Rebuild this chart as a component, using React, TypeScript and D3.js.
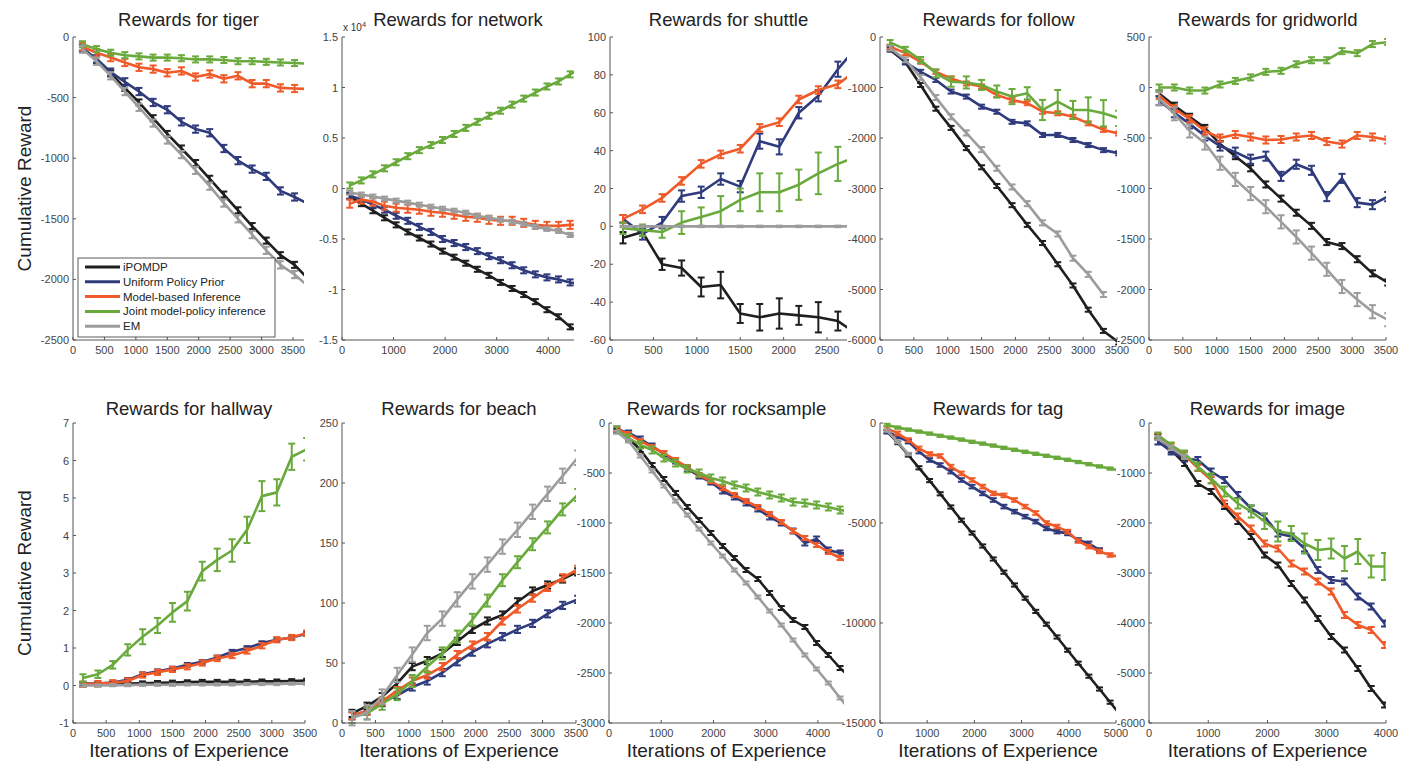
import * as d3 from 'd3';
import React from 'react';

// iterations at which every method was evaluated
const ITERATIONS = [150, 375, 600, 825, 1050, 1275, 1500, 1725, 1950, 2175, 2400, 2625, 2850, 3075, 3300, 3525, 3750, 3975, 4200, 4425, 4650, 4875, 5100];

const METHODS = ['iPOMDP', 'Uniform Policy Prior', 'Model-based Inference', 'Joint model-policy inference', 'EM'];
const COLORS = ['#1f1f1f', '#2f3b7c', '#ef5a28', '#6aaa3c', '#9c9c9c'];

// cumulative reward per method (order of METHODS)
const tiger = [
  [-90, -190, -300, -420, -540, -670, -800, -920, -1040, -1170, -1300, -1430, -1560, -1680, -1800, -1880, -2000],
  [-95, -180, -290, -370, -450, -540, -600, -700, -760, -790, -920, -1020, -1090, -1150, -1270, -1320, -1380],
  [-80, -130, -170, -210, -250, -265, -295, -280, -330, -305, -345, -320, -385, -385, -420, -425, -430],
  [-60, -100, -130, -150, -160, -170, -170, -175, -185, -185, -190, -200, -200, -205, -210, -215, -220],
  [-100, -200, -320, -450, -580, -710, -850, -970, -1100, -1230, -1370, -1500, -1630, -1760, -1880, -1960, -2060],
];
const tigerErr = [25, 30, 30, 25, 30];

// network values in units of 10^4
const network = [
  [-0.08, -0.15, -0.22, -0.29, -0.36, -0.43, -0.49, -0.55, -0.62, -0.68, -0.74, -0.8, -0.86, -0.93, -0.99, -1.05, -1.12, -1.2, -1.27, -1.37, -1.43],
  [-0.07, -0.11, -0.16, -0.21, -0.27, -0.32, -0.38, -0.43, -0.5, -0.54, -0.58, -0.62, -0.67, -0.71, -0.76, -0.81, -0.85, -0.88, -0.9, -0.93, -0.95],
  [-0.15, -0.11, -0.13, -0.17, -0.19, -0.2, -0.21, -0.23, -0.24, -0.26, -0.28, -0.29, -0.31, -0.32, -0.32, -0.34, -0.36, -0.37, -0.37, -0.36, -0.36],
  [0.03, 0.08, 0.14, 0.2, 0.26, 0.32, 0.38, 0.43, 0.48, 0.54, 0.6, 0.66, 0.72, 0.77, 0.83, 0.89, 0.95, 1.01, 1.06, 1.13, 1.19],
  [-0.04, -0.06, -0.08, -0.1, -0.12, -0.14, -0.16, -0.18, -0.2, -0.22, -0.24, -0.27, -0.29, -0.31, -0.33, -0.35, -0.38, -0.4, -0.42, -0.46, -0.48],
];
const networkErr = [0.025, 0.03, 0.04, 0.03, 0.02];

const shuttle = [
  [-6, -3, -20, -22, -32, -31, -46, -48, -46, -47, -48, -50, -57],
  [4, -4, 2, 16, 18, 25, 21, 45, 42, 60, 69, 83, 95],
  [4, 9, 15, 24, 33, 38, 41, 52, 55, 67, 72, 75, 83],
  [-1, -2, -3, 2, 5, 8, 14, 18, 18, 22, 28, 33, 37],
  [0, 0, 0, 0, 0, 0, 0, 0, 0, 0, 0, 0, 0],
];
const shuttleErr = [
  [3, 2, 3, 4, 5, 7, 5, 7, 8, 5, 8, 5, 5],
  [2, 3, 3, 3, 3, 3, 3, 4, 4, 3, 3, 4, 3],
  2,
  [3, 3, 3, 6, 5, 8, 6, 10, 10, 8, 11, 9, 9],
  0.4,
];

const follow = [
  [-250, -500, -950, -1420, -1800, -2200, -2580, -2950, -3330, -3720, -4080, -4500, -4920, -5400, -5820, -6050],
  [-220, -500, -690, -850, -1080, -1180, -1380, -1480, -1680, -1710, -1940, -1940, -2040, -2140, -2240, -2300],
  [-190, -320, -490, -690, -820, -920, -980, -1150, -1250, -1310, -1480, -1510, -1580, -1710, -1840, -1910],
  [-110, -245, -455, -720, -885, -900, -950, -1080, -1180, -1115, -1445, -1280, -1445, -1445, -1510, -1610],
  [-220, -450, -800, -1200, -1580, -1900, -2230, -2600, -2970, -3300, -3680, -3900, -4380, -4700, -5100],
];
const followErr = [40, 40, 40, [50, 50, 60, 80, 100, 120, 100, 120, 150, 120, 200, 230, 180, 250, 260, 150], 50];

const gridworld = [
  [-60, -180, -290, -400, -560, -680, -800, -960, -1100, -1240, -1370, -1530, -1570, -1700, -1840, -1930],
  [-130, -250, -360, -480, -580, -640, -710, -680, -880, -760, -820, -1080, -900, -1140, -1160, -1080],
  [-80, -210, -310, -430, -500, -465, -490, -520, -515, -490, -475, -535, -560, -475, -490, -520],
  [0, 0, -30, -30, 30, 65, 100, 155, 165, 230, 270, 270, 360, 340, 430, 450],
  [-110, -260, -430, -550, -750, -910, -1050, -1180, -1330, -1480, -1640, -1800, -1970, -2100, -2220, -2300],
];
const gridworldErr = [30, 45, 35, 30, 65];

const hallway = [
  [0.02, 0.03, 0.05, 0.05, 0.06, 0.07, 0.08, 0.09, 0.1, 0.1, 0.1, 0.1, 0.11, 0.11, 0.12, 0.13],
  [0.05, 0.05, 0.08, 0.15, 0.3, 0.38, 0.45, 0.55, 0.63, 0.75, 0.9, 1.0, 1.13, 1.22, 1.28, 1.38],
  [0.03, 0.05, 0.07, 0.12, 0.28, 0.35, 0.43, 0.5, 0.6, 0.72, 0.8, 0.92, 1.06, 1.22, 1.28, 1.4],
  [0.2, 0.3, 0.55, 0.95, 1.3, 1.6, 1.95, 2.25, 3.05, 3.35, 3.6, 4.15, 5.05, 5.15, 6.1, 6.3],
  [0, 0, 0.01, 0.01, 0.02, 0.02, 0.02, 0.03, 0.03, 0.03, 0.03, 0.04, 0.04, 0.04, 0.05, 0.05],
];
const hallwayErr = [0.05, 0.05, 0.07, [0.1, 0.1, 0.1, 0.15, 0.2, 0.2, 0.25, 0.25, 0.25, 0.3, 0.3, 0.35, 0.4, 0.35, 0.35, 0.3], 0.03];

const beach = [
  [8, 14, 22, 33, 47, 52, 58, 68, 78, 85, 90, 101, 110, 115, 120, 126],
  [6, 10, 17, 23, 30, 35, 42, 51, 59, 66, 72, 78, 83, 91, 98, 103],
  [6, 10, 18, 27, 35, 40, 47, 57, 65, 72, 85, 95, 104, 113, 121, 128],
  [5, 8, 16, 24, 35, 47, 58, 72, 86, 102, 119, 134, 149, 163, 178, 190],
  [4, 9, 22, 40, 57, 75, 87, 103, 118, 132, 147, 161, 176, 191, 206, 221],
];
const beachErr = [3, 3, 3, 5, 6];

const rocksample = [
  [-80, -150, -270, -420, -560, -700, -840, -970, -1100, -1230, -1350, -1470, -1560, -1700, -1850, -1970, -2040, -2200, -2320, -2450, -2560],
  [-60, -100, -160, -230, -310, -380, -460, -530, -590, -680, -740, -800, -860, -940, -1000, -1080, -1200, -1160, -1270, -1300, -1310],
  [-60, -110, -180, -240, -300, -370, -440, -520, -580, -650, -720, -780, -840, -910, -990, -1080, -1150, -1220, -1290, -1350, -1420],
  [-70, -150, -220, -270, -350, -400, -460, -500, -550, -580, -620, -650, -690, -720, -750, -790, -800, -820, -840, -870, -890],
  [-90, -180, -330, -480, -630, -780, -920, -1060, -1200, -1330, -1470, -1600, -1740, -1880, -2020, -2170, -2320, -2460, -2600, -2750, -2900],
];
const rocksampleErr = [20, 25, 20, 35, 15];

const tag = [
  [-430, -980, -1600, -2240, -2880, -3540, -4200, -4860, -5500, -6150, -6800, -7460, -8100, -8760, -9420, -10060, -10700, -11360, -12010, -12660, -13300, -13960, -14620],
  [-430, -680, -930, -1430, -1850, -2100, -2430, -2850, -3180, -3520, -3850, -4180, -4430, -4680, -4930, -5270, -5430, -5520, -5850, -6020, -6350],
  [-270, -520, -850, -1270, -1550, -1650, -2180, -2520, -2850, -3180, -3520, -3620, -3850, -4180, -4500, -5000, -5180, -5430, -5900, -6180, -6420, -6600, -6700],
  [-100, -230, -330, -430, -530, -640, -730, -830, -940, -1030, -1130, -1240, -1340, -1440, -1540, -1640, -1740, -1840, -1950, -2060, -2170, -2280, -2380],
  [-380, -950, -1550],
];
const tagErr = [80, 90, 90, 60, 60];

const image = [
  [-270, -540, -810, -1210, -1370, -1670, -1970, -2270, -2640, -2840, -3210, -3540, -3910, -4270, -4540, -4910, -5310, -5640],
  [-370, -570, -710, -740, -970, -1140, -1440, -1710, -1870, -2210, -2270, -2510, -2940, -3140, -3170, -3470, -3670, -4010],
  [-270, -470, -640, -900, -1140, -1610, -1870, -2110, -2410, -2510, -2810, -2970, -3170, -3370, -3840, -4040, -4140, -4440],
  [-240, -440, -610, -870, -1110, -1370, -1610, -1770, -1970, -2170, -2210, -2410, -2540, -2510, -2710, -2570, -2870, -2870],
  [-300, -500, -680],
];
const imageErr = [50, 60, 60, [50, 50, 60, 80, 100, 100, 100, 120, 150, 200, 150, 200, 200, 200, 250, 250, 220, 270], 40];

// axis ticks
const xTicks2500 = [0, 500, 1000, 1500, 2000, 2500];
const xTicks3500 = [0, 500, 1000, 1500, 2000, 2500, 3000, 3500];
const xTicks4000 = [0, 1000, 2000, 3000, 4000];
const xTicks5000 = [0, 1000, 2000, 3000, 4000, 5000];
const tigerYTicks = [-2500, -2000, -1500, -1000, -500, 0];
const networkYTicks = [-1.5, -1, -0.5, 0, 0.5, 1, 1.5];
const shuttleYTicks = [-60, -40, -20, 0, 20, 40, 60, 80, 100];
const followYTicks = [-6000, -5000, -4000, -3000, -2000, -1000, 0];
const gridworldYTicks = [-2500, -2000, -1500, -1000, -500, 0, 500];
const hallwayYTicks = [-1, 0, 1, 2, 3, 4, 5, 6, 7];
const beachYTicks = [0, 50, 100, 150, 200, 250];
const rocksampleYTicks = [-3000, -2500, -2000, -1500, -1000, -500, 0];
const tagYTicks = [-15000, -10000, -5000, 0];
const imageYTicks = [-6000, -5000, -4000, -3000, -2000, -1000, 0];

const PANELS = [
  { title: 'Rewards for tiger', values: tiger, err: tigerErr, xMax: 3675, xTicks: xTicks3500, yTicks: tigerYTicks },
  { title: 'Rewards for network', values: network, err: networkErr, xMax: 4500, xTicks: xTicks4000, yTicks: networkYTicks, exponent: '4' },
  { title: 'Rewards for shuttle', values: shuttle, err: shuttleErr, xMax: 2730, xTicks: xTicks2500, yTicks: shuttleYTicks },
  { title: 'Rewards for follow', values: follow, err: followErr, xMax: 3500, xTicks: xTicks3500, yTicks: followYTicks },
  { title: 'Rewards for gridworld', values: gridworld, err: gridworldErr, xMax: 3500, xTicks: xTicks3500, yTicks: gridworldYTicks },
  { title: 'Rewards for hallway', values: hallway, err: hallwayErr, xMax: 3500, xTicks: xTicks3500, yTicks: hallwayYTicks },
  { title: 'Rewards for beach', values: beach, err: beachErr, xMax: 3500, xTicks: xTicks3500, yTicks: beachYTicks },
  { title: 'Rewards for rocksample', values: rocksample, err: rocksampleErr, xMax: 4500, xTicks: xTicks4000, yTicks: rocksampleYTicks },
  { title: 'Rewards for tag', values: tag, err: tagErr, xMax: 5000, xTicks: xTicks5000, yTicks: tagYTicks },
  { title: 'Rewards for image', values: image, err: imageErr, xMax: 4000, xTicks: xTicks4000, yTicks: imageYTicks },
];

// layout (pixels)
const COL_X_TOP = [[73, 304], [342, 574], [610, 847], [880, 1117], [1149, 1386]];
const COL_X_BOTTOM = [[73, 305], [342, 576], [609, 844], [880, 1116], [1149, 1386]];
const ROW_Y = [[37, 340], [423, 723]];
const FONT = '"Liberation Sans", Arial, Helvetica, sans-serif';

function Panel({ p, idx }: { p: any; idx: number }) {
  const row = idx < 5 ? 0 : 1;
  const col = idx % 5;
  const [x0, x1] = row === 0 ? COL_X_TOP[col] : COL_X_BOTTOM[col];
  const [y0, y1] = ROW_Y[row];
  const x = d3.scaleLinear().domain([0, p.xMax]).range([x0, x1]);
  const y = d3.scaleLinear().domain(d3.extent(p.yTicks) as [number, number]).range([y1, y0]);
  const line = d3.line<number>().x((_, i) => x(ITERATIONS[i])).y(d => y(d));
  const clipId = `clip-${idx}`;
  const cap = 3.5;

  return (
    <g>
      <defs>
        <clipPath id={clipId}>
          <rect x={x0} y={y0 - 6} width={x1 - x0} height={y1 - y0 + 12} />
        </clipPath>
      </defs>
      <text x={(x0 + x1) / 2} y={row === 0 ? 26 : 415} textAnchor="middle" fontSize={18.5} fill="#222">{p.title}</text>
      {p.exponent && (
        <text x={x0 + 1} y={y0 - 6} fontSize={10} fill="#333">
          x 10<tspan dy={-4} fontSize={7.5}>{p.exponent}</tspan>
        </text>
      )}
      <g clipPath={`url(#${clipId})`}>
        {p.values.map((vals: number[], s: number) => {
          const e = p.err[s];
          return (
            <g key={s}>
              <path d={line(vals) ?? ''} fill="none" stroke={COLORS[s]} strokeWidth={2.6} strokeLinejoin="round" />
              {vals.map((v, j) => {
                const ev = Array.isArray(e) ? e[j] : e;
                const cx = x(ITERATIONS[j]);
                const ya = y(v - ev);
                const yb = y(v + ev);
                return (
                  <g key={j} stroke={COLORS[s]} strokeWidth={2}>
                    <line x1={cx} x2={cx} y1={ya} y2={yb} />
                    <line x1={cx - cap} x2={cx + cap} y1={ya} y2={ya} />
                    <line x1={cx - cap} x2={cx + cap} y1={yb} y2={yb} />
                  </g>
                );
              })}
            </g>
          );
        })}
      </g>
      <line x1={x0} x2={x0} y1={y0} y2={y1} stroke="#555" strokeWidth={1} />
      <line x1={x0} x2={x1} y1={y1} y2={y1} stroke="#555" strokeWidth={1} />
      {p.xTicks.map((t: number) => (
        <g key={`x${t}`}>
          <line x1={x(t)} x2={x(t)} y1={y1} y2={y1 - 3} stroke="#555" />
          <text x={x(t)} y={y1 + 14} textAnchor="middle" fontSize={11} fill="#444">{t}</text>
        </g>
      ))}
      {p.yTicks.map((t: number) => (
        <g key={`y${t}`}>
          <line x1={x0} x2={x0 + 3} y1={y(t)} y2={y(t)} stroke="#555" />
          <text x={x0 - 4} y={y(t) + 4} textAnchor="end" fontSize={11} fill="#444">{t}</text>
        </g>
      ))}
    </g>
  );
}

function Legend() {
  const lx = 78, ly = 258, w = 197, h = 79;
  return (
    <g>
      <rect x={lx} y={ly} width={w} height={h} fill="#fff" stroke="#333" strokeWidth={0.8} />
      {METHODS.map((m, k) => {
        const yy = ly + 9 + k * 14.8;
        return (
          <g key={m}>
            <line x1={lx + 7} x2={lx + 42} y1={yy} y2={yy} stroke={COLORS[k]} strokeWidth={3} />
            <text x={lx + 45} y={yy + 4} fontSize={11.5} fill="#222">{m}</text>
          </g>
        );
      })}
    </g>
  );
}

export default function App() {
  return (
    <svg width={1403} height={765} style={{ position: 'absolute', left: 0, top: 0, background: '#fff' }} fontFamily={FONT}>
      <rect width={1403} height={765} fill="#fff" />
      {PANELS.map((p, i) => (
        <Panel key={p.title} p={p} idx={i} />
      ))}
      <Legend />
      {ROW_Y.map(([a, b], r) => (
        <text key={r} transform={`translate(31,${(a + b) / 2}) rotate(-90)`} textAnchor="middle" fontSize={19} fill="#222">
          Cumulative Reward
        </text>
      ))}
      {COL_X_BOTTOM.map(([a, b], c) => (
        <text key={c} x={(a + b) / 2} y={757} textAnchor="middle" fontSize={19} fill="#222">
          Iterations of Experience
        </text>
      ))}
    </svg>
  );
}
